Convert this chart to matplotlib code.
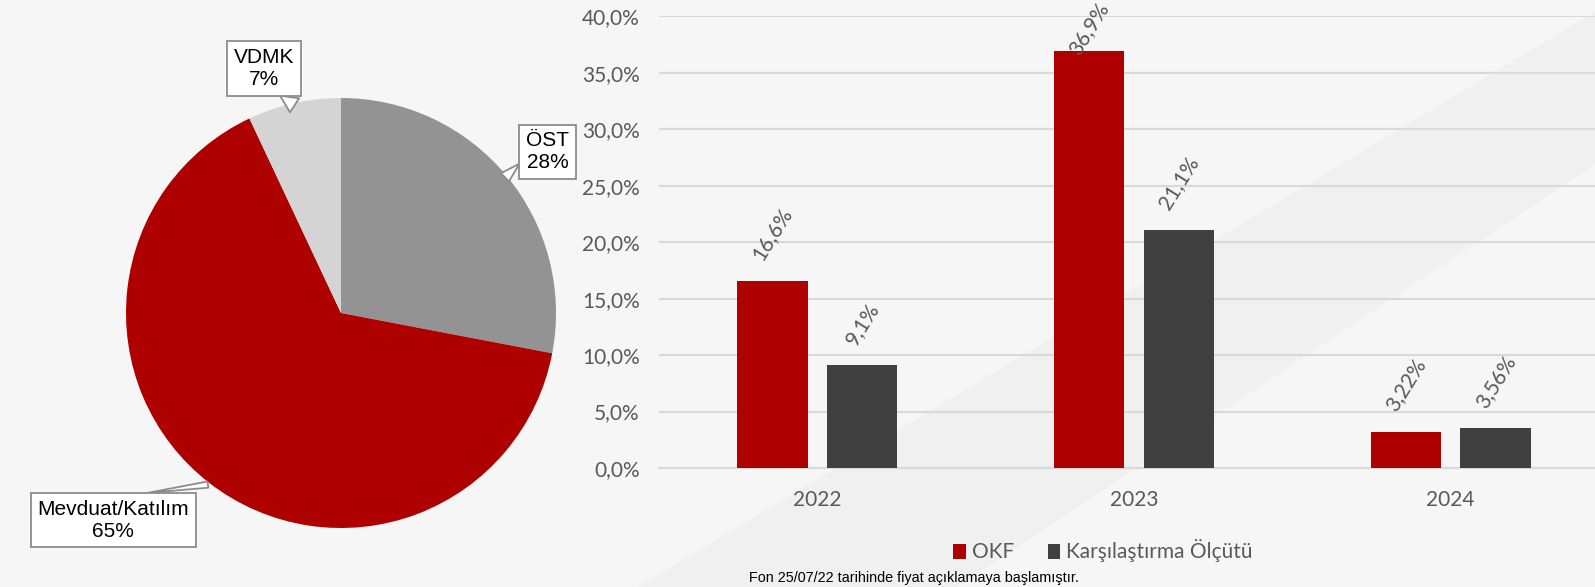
import matplotlib
matplotlib.use("Agg")
import matplotlib.pyplot as plt
from matplotlib.patches import Patch, Polygon, FancyArrowPatch
from matplotlib.ticker import FuncFormatter
import numpy as np

# ── data ──
years = ["2022", "2023", "2024"]
okf = [16.6, 36.9, 3.22]
benchmark = [9.1, 21.1, 3.56]
okf_labels = ["16,6%", "36,9%", "3,22%"]
benchmark_labels = ["9,1%", "21,1%", "3,56%"]
series_names = ["OKF", "Karşılaştırma Ölçütü"]

pie_names = ["ÖST", "Mevduat/Katılım", "VDMK"]
pie_values = [28, 65, 7]

footnote = "Fon 25/07/22 tarihinde fiyat açıklamaya başlamıştır."

# ── style ──
BG = "#F6F6F7"
RED = "#AF0000"
DARK = "#404040"
TEXT_GRAY = "#595959"
GRID = "#D9D9D9"
PIE_COLORS = ["#939393", RED, "#D4D4D4"]
TICK_FONT = "Lato"
BOX_EDGE = "#8C8C8C"

W, H = 1595, 587
fig = plt.figure(figsize=(W / 100, H / 100), dpi=100)
fig.patch.set_facecolor(BG)

# faint diagonal band in the background (own axes, behind everything)
bg = fig.add_axes([0, 0, 1, 1], zorder=-10)
bg.set_xlim(0, 1)
bg.set_ylim(0, 1)
bg.axis("off")
bg.add_patch(Polygon([(0.40, 0.0), (0.60, 0.0), (1.0, 0.72), (1.0, 0.98)],
                     closed=True, facecolor="#F0F0F1", edgecolor="none"))

# ────────────────────────────────────────────────────────────────
# Bar chart
# ────────────────────────────────────────────────────────────────
ax_left, ax_bottom = 659 / W, 1 - 468 / H
ax = fig.add_axes([ax_left, ax_bottom, 1609 / W - ax_left, (468 - 16.3) / H])
ax.set_facecolor("none")

x = np.arange(len(years))
bw = 0.222
off = 0.142
b1 = ax.bar(x - off, okf, bw, color=RED, zorder=3)
b2 = ax.bar(x + off, benchmark, bw, color=DARK, zorder=3)

ax.set_xlim(-0.5, 2.5)
ax.set_ylim(0, 40)
ax.set_yticks(np.arange(0, 40.1, 5))
ax.yaxis.set_major_formatter(FuncFormatter(lambda v, _: f"{v:.1f}%".replace(".", ",")))
ax.set_xticks(x)
ax.set_xticklabels(years)
ax.grid(axis="y", color=GRID, linewidth=1.5, zorder=0)
ax.set_axisbelow(True)
for s in ["top", "right", "left"]:
    ax.spines[s].set_visible(False)
ax.spines["bottom"].set_color(GRID)
ax.spines["bottom"].set_linewidth(1.5)
ax.tick_params(length=0, labelsize=15, labelcolor=TEXT_GRAY)
ax.tick_params(axis="y", pad=14)
ax.tick_params(axis="x", pad=16)
for lab in ax.get_xticklabels() + ax.get_yticklabels():
    lab.set_fontfamily(TICK_FONT)

for bars, labels in [(b1, okf_labels), (b2, benchmark_labels)]:
    for bar, txt in zip(bars, labels):
        h = bar.get_height()
        dy = 12 if h < 0.9 * 40 else -5
        ax.annotate(txt, (bar.get_x() + bar.get_width() / 2, h),
                    xytext=(0, dy), textcoords="offset points",
                    ha="center", va="bottom", rotation=58,
                    fontsize=15, color=TEXT_GRAY, fontfamily=TICK_FONT,
                    annotation_clip=False)

leg = fig.legend(
    handles=[Patch(facecolor=RED, label=series_names[0]),
             Patch(facecolor=DARK, label=series_names[1])],
    loc="center", bbox_to_anchor=(1103 / W, 1 - 551 / H), ncol=2,
    frameon=False, handlelength=0.6, handleheight=0.75, handletextpad=0.3,
    columnspacing=1.6, prop={"family": TICK_FONT, "size": 15},
)
for t in leg.get_texts():
    t.set_color(TEXT_GRAY)

fig.text(749 / W, 1 - 578 / H, footnote, ha="left", va="center",
         fontsize=10.4, color="black", family="Liberation Sans")

# ────────────────────────────────────────────────────────────────
# Pie chart
# ────────────────────────────────────────────────────────────────
cx, cy, r = 341, 313, 215
pax = fig.add_axes([(cx - r) / W, 1 - (cy + r) / H, 2 * r / W, 2 * r / H])
pax.set_facecolor("none")
wedges, _ = pax.pie(pie_values, colors=PIE_COLORS, startangle=90,
                    counterclock=False, radius=1,
                    wedgeprops=dict(linewidth=0))
pax.set_xlim(-1, 1)
pax.set_ylim(-1, 1)
pax.set_aspect("equal")
pax.axis("off")

# callouts: box centre (pie units), tip radius, tail base on the box, tail width
label_pos = [(0.961, 0.75), (-1.06, -0.963), (-0.359, 1.137)]
tip_radius = [0.99, 1.01, 0.99]
rel_pos = [(0.0, 0.28), (0.71, 1.0), (0.72, 0.0)]
tail_w = [0.55, 0.3, 0.8]
total = sum(pie_values)
boxes = []
for name, val, pos in zip(pie_names, pie_values, label_pos):
    t = pax.text(pos[0], pos[1], f"{name}\n{round(100 * val / total)}%",
                 ha="center", va="center", fontsize=15, color="black",
                 family="Liberation Sans", linespacing=1.2, zorder=6,
                 clip_on=False,
                 bbox=dict(boxstyle="square,pad=0.32", facecolor="white",
                           edgecolor=BOX_EDGE, linewidth=1.3))
    boxes.append(t)

# callout tails need the drawn box extents
fig.canvas.draw()
renderer = fig.canvas.get_renderer()
inv = pax.transData.inverted()
for w, t, tr, rp, tw in zip(wedges, boxes, tip_radius, rel_pos, tail_w):
    ang = np.deg2rad((w.theta1 + w.theta2) / 2)
    tip = (tr * np.cos(ang), tr * np.sin(ang))
    ext = t.get_bbox_patch().get_window_extent(renderer)
    anchor = inv.transform((ext.x0 + rp[0] * ext.width, ext.y0 + rp[1] * ext.height))
    tail = FancyArrowPatch(posA=tip, posB=anchor,
                           arrowstyle=f"wedge,tail_width={tw}",
                           mutation_scale=15, shrinkA=0, shrinkB=0,
                           facecolor="white", edgecolor=BOX_EDGE,
                           linewidth=1.3, zorder=5, clip_on=False)
    pax.add_patch(tail)

fig.savefig("out.png", dpi=100, facecolor=BG)
